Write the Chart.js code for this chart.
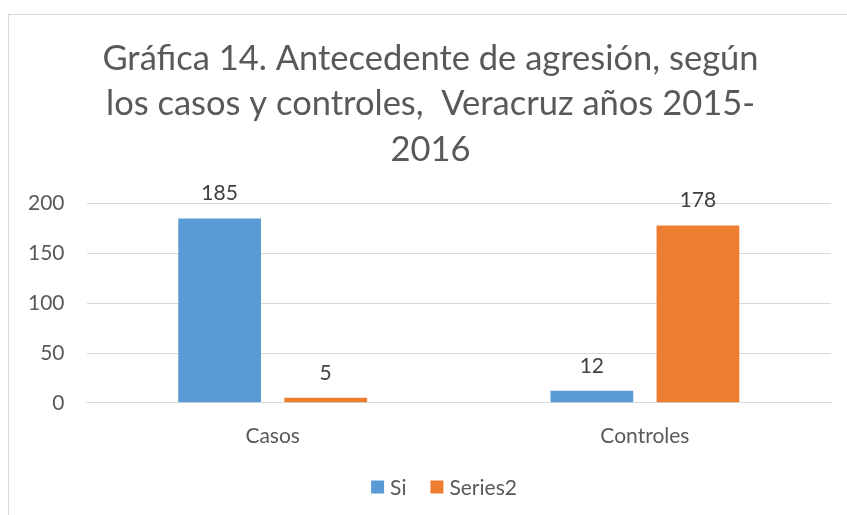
<!DOCTYPE html>
<html><head><meta charset="utf-8">
<script src="https://cdn.jsdelivr.net/npm/chart.js@4"></script>
<style>
html,body{margin:0;padding:0;background:#fff;overflow:hidden}
#wrap{position:relative;width:847px;height:515px}
#frame{position:absolute;left:8px;top:14px;width:900px;height:600px;border:1px solid #d9d9d9;box-sizing:border-box}
canvas{position:absolute;left:0;top:0}
</style></head>
<body><div id="wrap"><div id="frame"></div><canvas id="c" width="847" height="515"></canvas></div>
<script>
const categories = ["Casos", "Controles"];
const seriesSi = [185, 12];
const series2 = [5, 178];
const seriesNames = ["Si", "Series2"];
const seriesColors = ["#5B9BD5", "#ED7D31"];
const titleLines = ["Gráfica 14. Antecedente de agresión, según", "los casos y controles,  Veracruz años 2015-", "2016"];
const yTicks = [0, 50, 100, 150, 200];

const FONT = "Lato, 'Open Sans', sans-serif";
const TXT = "#595959";
const TITLE_SIZE = 34.5, TITLE_LH = 1.32, TITLE_SHIFT = 12;
const LEGEND_CX = 444, LEGEND_CY = 487;

const extrasPlugin = {
  id: 'extras',
  afterDatasetsDraw(chart) {
    const ctx = chart.ctx;
    ctx.save();
    ctx.font = "21px " + FONT;
    ctx.fillStyle = "#404040";
    ctx.textAlign = "center";
    ctx.textBaseline = "middle";
    chart.data.datasets.forEach((ds, i) => {
      chart.getDatasetMeta(i).data.forEach((bar, j) => {
        ctx.fillText(String(ds.data[j]), bar.x, bar.y - 25);
      });
    });
    ctx.restore();
  },
  afterDraw(chart) {
    const ctx = chart.ctx;
    ctx.save();
    const tb = chart.titleBlock;
    const lh = TITLE_SIZE * TITLE_LH;
    ctx.font = TITLE_SIZE + "px " + FONT;
    ctx.fillStyle = TXT;
    ctx.textAlign = "center";
    ctx.textBaseline = "middle";
    const cx = (tb.left + tb.right) / 2 + TITLE_SHIFT;
    titleLines.forEach((t, i) => ctx.fillText(t, cx, tb.top + lh / 2 + i * lh));
    ctx.font = "21px " + FONT;
    ctx.textAlign = "left";
    const box = 13, gapBT = 6, gapItems = 24;
    const widths = seriesNames.map(n => box + gapBT + ctx.measureText(n).width);
    const total = widths.reduce((a, b) => a + b, 0) + gapItems * (seriesNames.length - 1);
    let x = LEGEND_CX - total / 2;
    seriesNames.forEach((n, i) => {
      ctx.fillStyle = seriesColors[i];
      ctx.fillRect(x, LEGEND_CY - box / 2, box, box);
      ctx.fillStyle = TXT;
      ctx.fillText(n, x + box + gapBT, LEGEND_CY + 1);
      x += widths[i] + gapItems;
    });
    ctx.restore();
  }
};

new Chart(document.getElementById('c'), {
  type: 'bar',
  data: {
    labels: categories,
    datasets: [
      { label: seriesNames[0], data: seriesSi, backgroundColor: seriesColors[0], barPercentage: 0.78, categoryPercentage: 0.57 },
      { label: seriesNames[1], data: series2, backgroundColor: seriesColors[1], barPercentage: 0.78, categoryPercentage: 0.57 }
    ]
  },
  options: {
    responsive: false,
    animation: false,
    layout: { padding: { left: 6, right: 16, top: 36, bottom: 45 } },
    plugins: {
      title: {
        display: true,
        text: titleLines,
        color: 'rgba(0,0,0,0)',
        font: { family: FONT, size: TITLE_SIZE, weight: 'normal', lineHeight: TITLE_LH },
        padding: { top: 0, bottom: 31 }
      },
      legend: { display: false },
      tooltip: { enabled: false }
    },
    scales: {
      x: {
        grid: { display: false, drawTicks: false },
        border: { color: "#d9d9d9", width: 1 },
        ticks: { color: TXT, font: { family: FONT, size: 21 }, padding: 21 }
      },
      y: {
        min: 0, max: 200,
        afterBuildTicks(axis) { axis.ticks = yTicks.map(v => ({ value: v })); },
        grid: { color: "#d9d9d9", drawTicks: false },
        border: { display: false },
        ticks: { color: TXT, font: { family: FONT, size: 21 }, padding: 22 }
      }
    }
  },
  plugins: [extrasPlugin]
});
</script></body></html>
